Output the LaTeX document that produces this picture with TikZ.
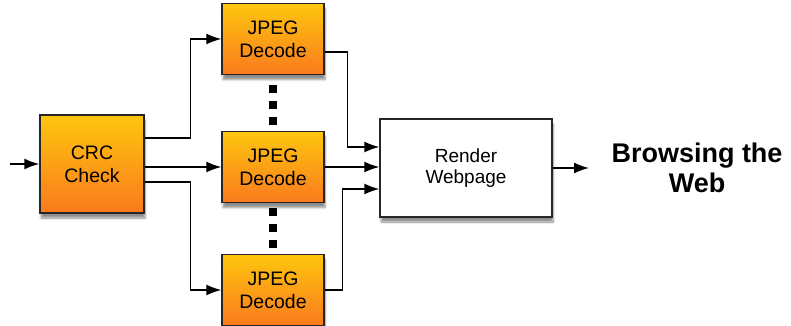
\documentclass[tikz,border=0pt]{standalone}
\usepackage{fontspec}
\setmainfont{Liberation Sans}
\usepackage{tikz}
\usetikzlibrary{arrows.meta,positioning,shadows.blur,calc}

\definecolor{boxtop}{HTML}{FEC60E}
\definecolor{boxbottom}{HTML}{FA7A1D}

\tikzset{
	stage/.style={draw=black!85, line width=1.4pt, top color=boxtop, bottom color=boxbottom,
		align=center, inner sep=0pt, font=\fontsize{19.5}{23}\selectfont,
		blur shadow={shadow xshift=1pt, shadow yshift=-5pt, shadow blur steps=8, shadow opacity=45}},
	renderbox/.style={draw=black!85, line width=1.4pt, fill=white, align=center,
		font=\fontsize{19}{21}\selectfont, minimum width=172pt, minimum height=98pt,
		blur shadow={shadow xshift=1pt, shadow yshift=-5pt, shadow blur steps=8, shadow opacity=45}},
	wire/.style={line width=1.5pt, -{Latex[length=15pt,width=11pt]}}
}

\begin{document}
\begin{tikzpicture}[x=1pt, y=-1pt]
		\useasboundingbox (0,0) rectangle (791,326);
		\coordinate (in) at (10,164);
		\node [stage, minimum width=104pt, minimum height=98pt](crc) at (92,164) {CRC\\Check};
		\node [stage, minimum width=102pt, minimum height=71pt](jpeg_top) at (273,39) {JPEG\\Decode};
		\node [stage, minimum width=102pt, minimum height=71pt](jpeg_mid) at (273,167) {JPEG\\Decode};
		\node [stage, minimum width=102pt, minimum height=71pt](jpeg_bot) at (273,290) {JPEG\\Decode};
		\node [renderbox](render) at (466,168) {Render\\Webpage};
		\coordinate (out) at (589,168);
		\node [align=center, font=\fontsize{27}{30}\selectfont\bfseries](web) at (697,168) {Browsing the\\Web};
		% dots between the decoders
		\foreach \y in {89,105,121,212,228,244}
			\fill (269,\y-4) rectangle (277,\y+4);
		% crc to decoders
		\draw [wire] (in) -- (crc);
		\draw [wire] ([yshift=26pt]crc.east) -- ++(46,0) |- (jpeg_top.west);
		\draw [wire] (crc.east |- jpeg_mid) -- (jpeg_mid);
		\draw [wire] ([yshift=-18pt]crc.east) -- ++(46,0) |- (jpeg_bot.west);
		% decoders to render
		\draw [wire] ([yshift=-13pt]jpeg_top.east) -- ++(23,0) |- ([yshift=21pt]render.west);
		\draw [wire] (jpeg_mid.east) -- (render.west |- jpeg_mid.east);
		\draw [wire] (jpeg_bot.east) -- ++(18,0) |- ([yshift=-21pt]render.west);
		\draw [wire] (render) -- (out);
\end{tikzpicture}
\end{document}
